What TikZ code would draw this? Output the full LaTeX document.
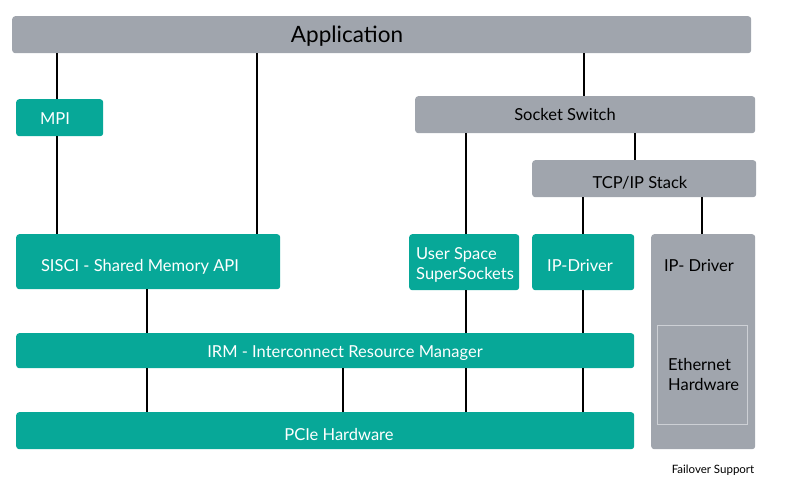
\documentclass[tikz,border=0pt]{standalone}
\usepackage{fontspec}
\setmainfont{Lato}
\usetikzlibrary{positioning}
\definecolor{boxgrey}{HTML}{A0A5AD}
\definecolor{boxteal}{HTML}{07A898}
\definecolor{hwline}{HTML}{CDD0D5}
\tikzset{
  layer/.style={rounded corners=3pt, anchor=north west, inner sep=0pt},
  greybox/.style={layer, fill=boxgrey},
  tealbox/.style={layer, fill=boxteal},
  link/.style={line width=1.8pt, black},
  darktext/.style={text=black, yshift=-1.5pt, font=\fontsize{16.5}{20}\selectfont},
  lighttext/.style={text=white, yshift=-1.5pt, font=\fontsize{16.5}{20}\selectfont},
}
\begin{document}
\begin{tikzpicture}[x=1pt,y=-1pt]
  \useasboundingbox (0,0) rectangle (792,497);

  % layers
  \node[greybox, minimum width=739pt, minimum height=37pt] (app) at (12,16) {};
  \node[tealbox, minimum width=87pt, minimum height=37pt] (mpi) at (16,99) {};
  \node[greybox, minimum width=340pt, minimum height=37pt] (sock) at (415,96) {};
  \node[greybox, minimum width=224pt, minimum height=37pt] (tcp) at (532,160) {};
  \node[tealbox, minimum width=264pt, minimum height=55pt] (sisci) at (16,234) {};
  \node[tealbox, minimum width=110pt, minimum height=56pt] (uss) at (409,234) {};
  \node[tealbox, minimum width=102pt, minimum height=56pt] (ipd) at (532,234) {};
  \node[greybox, minimum width=104pt, minimum height=215pt] (fail) at (651,234) {};
  \node[layer, rounded corners=0pt, draw=hwline, line width=1pt,
        minimum width=90pt, minimum height=99pt] (eth) at (657,325) {};
  \node[tealbox, minimum width=618pt, minimum height=35pt] (irm) at (16,333) {};
  \node[tealbox, minimum width=618pt, minimum height=37pt] (pcie) at (16,412) {};

  % labels
  \node[darktext, font=\fontsize{22.5}{26}\selectfont] (apptext) at (347,35) {Application};
  \node[lighttext] (mpitext) at (55,117) {MPI};
  \node[darktext] (socktext) at (565,113) {Socket Switch};
  \node[darktext] (tcptext) at (640,181) {TCP/IP Stack};
  \node[lighttext] (siscitext) at (140,265) {SISCI - Shared Memory API};
  \node[lighttext, anchor=west, align=left, inner xsep=0pt] (usstext) at (416,263) {User Space\\SuperSockets};
  \node[lighttext] (ipdtext) at (580,264) {IP-Driver};
  \node[darktext] (failtext) at (699,264) {IP- Driver};
  \node[darktext, anchor=west, align=left, inner xsep=0pt] (ethtext) at (668,373) {Ethernet\\Hardware};
  \node[lighttext] (irmtext) at (345,352) {IRM - Interconnect Resource Manager};
  \node[lighttext] (pcietext) at (339,433) {PCIe Hardware};
  \node[darktext, font=\fontsize{11.5}{13}\selectfont] (failnote) at (713,469) {Failover Support};

  % connections
  \foreach \x/\a/\b in {57/app/mpi, 57/mpi/sisci, 257/app/sisci, 584/app/sock,
      466/sock/uss, 635/sock/tcp, 583/tcp/ipd, 702/tcp/fail,
      147/sisci/irm, 466/uss/irm, 583/ipd/irm,
      147/irm/pcie, 343/irm/pcie, 466/irm/pcie, 583/irm/pcie}
    \draw[link] (\x,0 |- \a.south) -- (\x,0 |- \b.north);
\end{tikzpicture}
\end{document}
